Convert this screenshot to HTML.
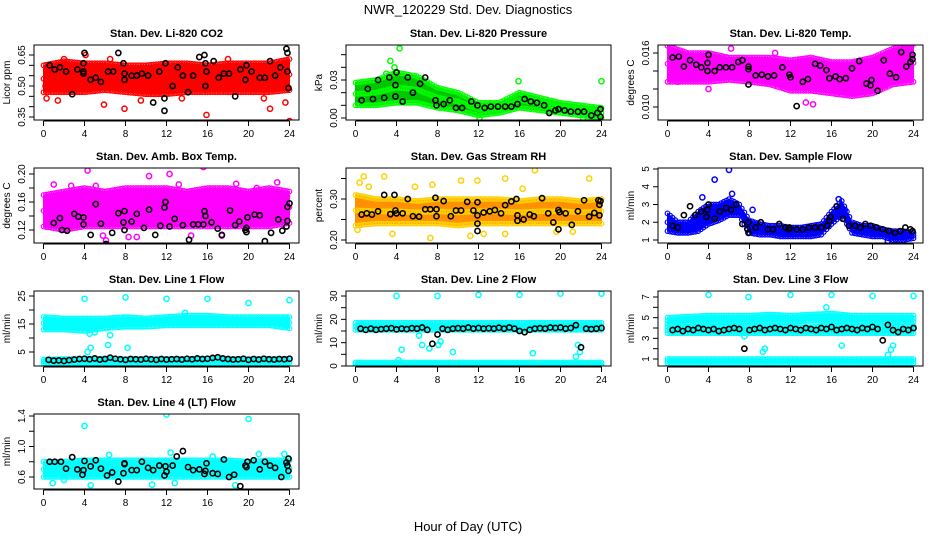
<!DOCTYPE html>
<html><head><meta charset="utf-8"><style>
body{margin:0;background:#fff;}
svg{display:block;font-family:"Liberation Sans",sans-serif;}
</style></head><body>
<svg id="chart" width="936" height="540" viewBox="0 0 936 540" xmlns="http://www.w3.org/2000/svg">
<text x="468" y="14" text-anchor="middle" font-size="13">NWR_120229  Std. Dev. Diagnostics</text>
<text x="468" y="531" text-anchor="middle" font-size="13">Hour of Day (UTC)</text>
</svg>
<script>
// ---------- data ----------
const hours2 = [0,2,4,6,8,10,12,14,16,18,20,22,24];
const hours1 = [0,1,2,3,4,5,6,7,8,9,10,11,12,13,14,15,16,17,18,19,20,21,22,23,24];
const xTicks = [0,4,8,12,16,20,24];
const halfHours = [0.5,1,1.5,2,2.5,3,3.5,4,4.5,5,5.5,6,6.5,7,7.5,8,8.5,9,9.5,10,10.5,11,11.5,12,12.5,13,13.5,14,14.5,15,15.5,16,16.5,17,17.5,18,18.5,19,19.5,20,20.5,21,21.5,22,22.5,23,23.5,24];

// P1 CO2
const co2Lo = [0.47,0.47,0.47,0.48,0.47,0.46,0.46,0.47,0.47,0.47,0.47,0.47,0.48];
const co2Hi = [0.60,0.62,0.61,0.61,0.60,0.60,0.61,0.61,0.60,0.61,0.61,0.61,0.63];
const co2OutX = [0.3,5.9,7.9,15.9,22.1,23.6,24.0,4.1,0.2,2.0,9.5,13.5,18.0,21.5,1.4,6.5];
const co2OutY = [0.44,0.41,0.39,0.36,0.39,0.42,0.33,0.65,0.50,0.63,0.43,0.44,0.63,0.44,0.43,0.63];
const co2BlkX = [0.6,1.1,1.6,2.2,2.8,3.3,3.9,3.9,4.0,3.9,4.6,5.1,5.6,6.3,6.8,7.3,7.8,7.9,7.9,8.6,9.1,9.6,10.2,10.7,11.3,11.8,11.9,11.8,12.6,13.1,13.6,14.1,14.6,15.2,15.7,15.8,15.8,15.9,16.6,17.1,17.6,18.1,18.7,19.2,19.7,19.8,20.3,21.1,21.6,22.1,22.6,23.1,23.7,23.8,23.8,23.9];
const co2BlkY = [0.60,0.58,0.59,0.57,0.46,0.58,0.56,0.57,0.66,0.61,0.53,0.54,0.52,0.57,0.57,0.66,0.61,0.53,0.56,0.55,0.55,0.56,0.55,0.42,0.57,0.44,0.61,0.38,0.50,0.59,0.55,0.47,0.55,0.64,0.65,0.61,0.50,0.57,0.62,0.54,0.56,0.56,0.45,0.58,0.53,0.60,0.57,0.54,0.54,0.62,0.55,0.59,0.68,0.66,0.57,0.49];
// P2 Pressure
const prLo = [0.010,0.010,0.012,0.012,0.008,0.006,0.002,0.004,0.008,0.006,0.004,0.002,0.000];
const prHi = [0.028,0.030,0.036,0.033,0.024,0.020,0.012,0.012,0.020,0.016,0.012,0.010,0.008];
const prOutX = [3.4,4.3,15.9,24.0,3.0,3.8,12.1,22.2];
const prOutY = [0.045,0.055,0.029,0.029,0.035,0.040,0.000,0.000];
const prBlkX = [0.6,1.2,1.7,2.2,2.8,3.3,3.9,3.9,4.0,4.6,5.1,5.6,6.3,6.8,7.8,7.9,8.6,9.2,9.8,10.4,11.3,11.9,12.6,13.2,13.9,14.6,15.2,15.8,16.5,17.1,17.7,18.4,18.9,19.5,19.8,20.4,21.0,21.7,22.3,23.0,23.6,23.9,23.9];
const prBlkY = [0.014,0.023,0.015,0.030,0.016,0.032,0.026,0.017,0.036,0.013,0.032,0.020,0.027,0.032,0.014,0.010,0.011,0.014,0.008,0.008,0.013,0.010,0.008,0.009,0.009,0.009,0.009,0.011,0.015,0.013,0.012,0.010,0.004,0.006,0.007,0.006,0.005,0.005,0.005,0.002,0.004,0.001,0.007];
// P3 Li-820 Temp
const ltLo = [0.0128,0.0128,0.0128,0.0130,0.0128,0.0125,0.0118,0.0118,0.0115,0.0112,0.0115,0.0125,0.0128];
const ltHi = [0.0168,0.0160,0.0160,0.0155,0.0155,0.0155,0.0152,0.0155,0.0150,0.0150,0.0155,0.0165,0.0170];
const ltOutX = [0.2,6.2,19.7,19.8,4.0,13.5,14.2,10.5,23.0,1.0];
const ltOutY = [0.0172,0.0165,0.0077,0.0081,0.0120,0.0105,0.0103,0.0160,0.0166,0.0128];
const ltBlkX = [0.5,1.1,1.6,2.2,2.8,3.3,3.9,3.9,4.0,4.6,5.1,5.7,6.3,6.9,7.3,7.9,7.9,7.9,8.6,9.2,9.8,10.4,11.2,11.9,12.0,12.6,13.2,13.7,14.4,14.9,15.5,15.8,16.4,16.8,17.4,18.0,18.7,19.4,19.8,19.9,20.5,21.1,21.7,22.3,22.8,23.3,23.7,23.9,23.9];
const ltBlkY = [0.0155,0.0156,0.0145,0.0152,0.0147,0.0144,0.0140,0.0149,0.0158,0.0140,0.0144,0.0144,0.0144,0.0150,0.0152,0.0145,0.0142,0.0125,0.0135,0.0136,0.0134,0.0135,0.0144,0.0136,0.0133,0.0101,0.0128,0.0131,0.0148,0.0146,0.0141,0.0132,0.0134,0.0131,0.0132,0.0143,0.0151,0.0126,0.0124,0.0130,0.0118,0.0152,0.0137,0.0133,0.0161,0.0145,0.0150,0.0158,0.0153];
// P4 Amb Box Temp
const abLo = [0.125,0.120,0.125,0.125,0.125,0.125,0.125,0.125,0.125,0.125,0.125,0.125,0.130];
const abHi = [0.170,0.175,0.180,0.175,0.180,0.180,0.180,0.175,0.180,0.180,0.175,0.180,0.175];
const abOutX = [1.0,4.3,5.1,10.3,12.3,15.6,18.8,22.8,6.1,8.3,14.4,17.4,5.8,0.3,9.1,2.7,13.2,20.8];
const abOutY = [0.185,0.205,0.183,0.197,0.200,0.210,0.186,0.188,0.105,0.110,0.112,0.112,0.112,0.125,0.110,0.183,0.185,0.180];
const abBlkX = [1.0,1.6,1.8,2.3,3.0,3.4,3.9,3.9,4.6,5.1,5.6,6.1,6.7,7.3,7.9,7.8,7.9,8.6,9.1,9.8,10.3,10.9,11.4,11.8,11.9,12.3,12.8,13.6,14.2,14.6,15.1,15.6,15.7,15.8,16.4,17.0,17.4,18.2,18.7,19.1,19.7,19.8,19.8,19.9,20.6,21.1,21.6,22.2,22.9,23.3,23.7,23.8,23.8,24.0];
const abBlkY = [0.130,0.137,0.120,0.119,0.143,0.139,0.138,0.128,0.113,0.157,0.129,0.100,0.116,0.144,0.147,0.131,0.120,0.132,0.143,0.123,0.149,0.113,0.126,0.152,0.160,0.125,0.136,0.127,0.106,0.128,0.128,0.128,0.147,0.140,0.131,0.122,0.113,0.148,0.127,0.132,0.120,0.117,0.123,0.138,0.142,0.141,0.104,0.116,0.135,0.119,0.125,0.133,0.153,0.158];
// P5 Gas Stream RH
const rhLo = [0.235,0.240,0.240,0.240,0.240,0.235,0.240,0.240,0.240,0.240,0.240,0.240,0.240];
const rhHi = [0.310,0.300,0.300,0.295,0.300,0.300,0.300,0.300,0.295,0.300,0.300,0.295,0.300];
const rhOutX = [0.4,0.8,2.8,7.5,10.3,11.9,14.6,17.5,22.8,0.2,3.6,7.3,11.2,12.5,14.6,21.2,1.3,5.8,16.3,19.6];
const rhOutY = [0.340,0.355,0.355,0.335,0.345,0.345,0.350,0.370,0.350,0.225,0.215,0.205,0.210,0.215,0.215,0.220,0.330,0.330,0.325,0.220];
const rhBlkX = [0.6,1.1,1.6,2.2,2.8,3.4,3.8,3.9,4.0,4.6,5.1,5.6,6.2,6.8,7.3,7.8,7.9,7.9,8.6,9.3,9.8,10.3,10.9,11.5,11.9,11.9,11.9,11.9,12.5,13.1,13.6,14.2,14.6,15.2,15.7,15.8,15.8,16.4,17.0,17.4,18.2,18.8,19.3,19.8,19.8,19.9,20.5,21.1,21.7,22.3,22.8,23.3,23.7,23.8,23.8,23.9];
const rhBlkY = [0.262,0.265,0.262,0.270,0.310,0.263,0.310,0.272,0.265,0.265,0.300,0.258,0.257,0.275,0.275,0.303,0.275,0.258,0.295,0.258,0.272,0.272,0.293,0.272,0.292,0.260,0.240,0.222,0.267,0.270,0.273,0.265,0.285,0.294,0.300,0.260,0.247,0.250,0.262,0.258,0.302,0.265,0.243,0.273,0.226,0.268,0.265,0.237,0.270,0.297,0.257,0.266,0.297,0.286,0.260,0.295];
// P6 Sample Flow
const sfLo = [1.5,1.4,1.4,1.5,1.9,2.1,2.4,2.4,1.4,1.3,1.3,1.2,1.2,1.2,1.2,1.3,1.9,2.4,1.4,1.3,1.2,1.2,1.0,1.0,1.1];
const sfHi = [2.5,2.0,2.0,2.6,3.0,3.0,3.3,3.0,2.1,1.9,1.8,1.8,1.7,1.7,1.8,1.9,2.6,3.2,2.0,1.8,1.8,1.6,1.5,1.5,1.4];
const sfOutX = [4.6,6.0,8.3,3.4,6.3,16.7,17.3,21.5];
const sfOutY = [4.4,4.95,2.7,3.4,3.6,3.3,2.7,0.95];
const sfBlkX = [0.5,1.0,1.6,2.2,2.7,3.3,3.8,3.9,4.0,4.6,5.1,5.7,6.2,6.7,7.3,7.8,7.9,7.9,8.6,9.1,9.8,10.3,10.9,11.5,11.8,11.9,12.6,13.2,13.8,14.4,15.0,15.6,15.8,15.9,16.5,17.1,17.7,18.3,18.8,19.3,19.8,20.4,21.0,21.6,22.2,22.7,23.2,23.7,23.9];
const sfBlkY = [1.8,1.7,2.4,2.9,2.4,2.6,2.3,2.7,3.0,2.2,2.6,2.8,2.7,3.0,1.9,1.6,1.4,2.0,1.7,2.0,1.6,1.6,1.9,1.7,1.6,1.7,1.6,1.6,1.7,1.7,1.7,1.8,2.1,2.3,2.9,2.2,1.8,1.8,1.7,1.9,1.8,1.7,1.6,1.5,1.4,1.5,1.7,1.6,1.5];
// P7 Line 1 Flow
const l1aLo = [13,13,12.5,13.5,14,14,14.5,14.5,14.5,14.5,14.5,14.5,13.5];
const l1aHi = [17.5,17,17,17,17.5,17,17.5,18,18,17.5,17.5,17.5,17.5];
const l1bLo = [1.0,1.0,1.2,1.2,1.2,1.2,1.2,1.2,1.2,1.2,1.2,1.2,1.2];
const l1bHi = [2.3,2.5,2.5,2.6,2.5,2.5,2.5,2.5,2.6,2.5,2.5,2.5,2.5];
const l1OutX = [4,8,12,16,20,24,4.3,4.6,6.3,6.5,8.2,4.5,5.0,13.8];
const l1OutY = [24,24.5,24,24,22.5,23.5,5,6.5,7.5,11,6.5,11.5,12,19];
const l1BlkY = [2.2,1.9,2.0,1.8,2.1,2.3,2.5,2.6,2.4,2.7,2.3,2.5,3.0,2.6,2.4,2.2,2.5,2.4,2.3,2.6,2.4,2.2,2.5,2.3,2.4,2.5,2.3,2.6,2.4,2.7,2.5,2.6,2.9,3.1,2.7,2.5,2.3,2.4,2.6,2.2,2.5,2.3,2.6,2.4,2.3,2.5,2.4,2.6];
// P8 Line 2 Flow
const l2aLo = [15.5,15.5,15.5,15.5,15.5,15.5,15.5,15.5,15.5,15.5,15.5,15.5,15.5];
const l2aHi = [18.5,18.5,18.5,18.5,18.5,18.5,18.5,18.5,18.5,18.5,18.5,18.5,18.5];
const l2bLo = [0,0,0,0,0,0,0,0,0,0,0,0,0];
const l2bHi = [1.5,1.5,1.5,1.5,1.5,1.5,1.5,1.5,1.5,1.5,1.5,1.5,1.5];
const l2OutX = [4,8,12,16,20,24,4.5,6.5,7.2,8.1,8.3,9.5,17.3,21.5,21.9,21.7,4.2,6.2];
const l2OutY = [30,30,30.5,30.5,31,31,7,9,7.5,9,10.5,6,5.5,4,6,9,2.5,13];
const l2BlkY = [16,15.5,16,15.5,15.8,16,16.2,15.7,16,15.8,16.2,16,16.5,15.5,9.5,13.5,16,15.5,16,16.2,16,16.5,16,16.3,16,16.2,16,16.4,16,16.5,16,15,14.5,15.5,16,16.2,16,16.5,16.3,16.5,16,16.3,17.5,8,16,15.8,16,16.3];
// P9 Line 3 Flow
const l3aLo = [4.4,4.5,4.6,4.6,4.6,4.6,4.6,4.7,4.7,4.6,4.6,4.6,4.6];
const l3aHi = [5.0,5.1,5.2,5.2,5.2,5.3,5.2,5.3,5.4,5.2,5.2,5.2,5.2];
const l3bLo = [3.5,3.5,3.5,3.5,3.5,3.5,3.5,3.5,3.5,3.5,3.5,3.5,3.5];
const l3bHi = [4.1,4.1,4.1,4.1,4.1,4.2,4.1,4.1,4.2,4.1,4.1,4.1,4.2];
const l3cLo = [0.6,0.6,0.6,0.6,0.6,0.6,0.6,0.6,0.6,0.6,0.6,0.6,0.6];
const l3cHi = [1.0,1.0,1.0,1.0,1.0,1.0,1.0,1.0,1.0,1.0,1.0,1.0,1.0];
const l3OutX = [4,7.9,12,16,20,24,7.5,9.5,17,21.5,22,15.5,9.3,21.8];
const l3OutY = [7.2,7.0,7.2,7.2,7.1,7.1,3.2,2.0,2.3,1.4,2.3,6.0,1.7,1.9];
const l3BlkY = [3.8,3.9,3.7,3.9,3.8,4.0,3.9,3.8,3.9,3.7,3.8,3.9,4.0,3.9,2.0,3.8,3.9,4.0,3.8,3.9,4.0,3.9,3.8,4.0,3.9,3.8,4.0,3.9,3.8,4.0,3.9,4.1,3.8,3.9,4.0,3.9,3.8,4.0,3.9,4.1,3.9,2.8,4.3,3.8,3.6,3.9,3.8,4.0];
// P10 Line 4 Flow
const l4Lo = [0.60,0.60,0.60,0.60,0.60,0.60,0.60,0.60,0.60,0.60,0.60,0.60,0.60];
const l4Hi = [0.80,0.80,0.82,0.82,0.82,0.82,0.82,0.82,0.82,0.82,0.80,0.82,0.82];
const l4OutX = [4,12,20,0.9,4.6,10.6,18.7,6.4,12.4,21.0,23.5,12.8,2.0,16.5];
const l4OutY = [1.27,1.42,1.36,0.52,0.49,0.50,0.49,0.89,0.92,0.90,0.90,0.52,0.56,0.87];
const l4BlkX = [0.6,1.1,1.7,2.2,2.8,3.3,3.8,3.9,4.0,4.6,5.1,5.6,6.2,6.7,7.3,7.8,7.9,7.9,8.6,9.1,9.6,10.2,10.7,11.3,11.8,11.9,12.0,12.6,13.0,13.6,14.1,14.6,15.2,15.7,15.8,15.9,16.5,17.0,17.6,18.1,18.6,19.2,19.7,19.8,19.9,20.5,21.1,21.6,22.1,22.6,23.2,23.7,23.8,23.9,23.9];
const l4BlkY = [0.80,0.80,0.80,0.71,0.86,0.70,0.63,0.69,0.81,0.74,0.82,0.71,0.62,0.66,0.54,0.65,0.77,0.78,0.69,0.69,0.80,0.72,0.69,0.75,0.62,0.74,0.67,0.75,0.87,0.94,0.73,0.69,0.70,0.64,0.68,0.78,0.65,0.64,0.83,0.60,0.63,0.48,0.75,0.73,0.80,0.82,0.70,0.80,0.75,0.72,0.60,0.79,0.75,0.68,0.84];

// y ticks
const co2Ticks=[0.35,0.40,0.45,0.50,0.55,0.60,0.65], co2Labels=["0.35","","","0.50","","","0.65"];
const prTicks=[0,0.01,0.02,0.03,0.04,0.05], prLabels=["0.00","","","0.03","",""];
const ltTicks=[0.010,0.012,0.014,0.016], ltLabels=["0.010","","","0.016"];
const abTicks=[0.12,0.14,0.16,0.18,0.20], abLabels=["0.12","","0.16","","0.20"];
const rhTicks=[0.20,0.25,0.30,0.35], rhLabels=["0.20","","0.30",""];
const sfTicks=[1,2,3,4,5], sfLabels=["1","2","3","4","5"];
const l1Ticks=[5,10,15,20,25], l1Labels=["5","","15","","25"];
const l2Ticks=[0,5,10,15,20,25,30], l2Labels=["0","","10","","20","","30"];
const l3Ticks=[1,2,3,4,5,6,7], l3Labels=["1","","3","","5","","7"];
const l4Ticks=[0.6,0.8,1.0,1.2,1.4], l4Labels=["0.6","","1.0","","1.4"];

// ---------- layout ----------
const panels = [
 {name:"co2",title:"Stan. Dev. Li-820 CO2",ylab:"Licor ppm",col:0,row:0,v0:0.65,p0:55,v1:0.35,p1:117,ticks:co2Ticks,labels:co2Labels,fill:"#ff0000",pt:"#ff0000",
  bands:[[hours2,co2Lo,co2Hi]],out:[co2OutX,co2OutY],blk:[co2BlkX,co2BlkY]},
 {name:"pressure",title:"Stan. Dev. Li-820 Pressure",ylab:"kPa",col:1,row:0,v0:0.03,p0:80,v1:0,p1:118,ticks:prTicks,labels:prLabels,fill:"#00c800",pt:"#00ff00",
  bands:[[hours2,prLo,prHi]],out:[prOutX,prOutY],blk:[prBlkX,prBlkY]},
 {name:"li820-temp",title:"Stan. Dev. Li-820 Temp.",ylab:"degrees C",col:2,row:0,v0:0.016,p0:53,v1:0.010,p1:107,ticks:ltTicks,labels:ltLabels,fill:"#ff00ff",pt:"#ff00ff",
  bands:[[hours2,ltLo,ltHi]],out:[ltOutX,ltOutY],blk:[ltBlkX,ltBlkY]},
 {name:"amb-box-temp",title:"Stan. Dev. Amb. Box Temp.",ylab:"degrees C",col:0,row:1,v0:0.20,p0:174,v1:0.12,p1:230,ticks:abTicks,labels:abLabels,fill:"#ff00ff",pt:"#ff00ff",
  bands:[[hours2,abLo,abHi]],out:[abOutX,abOutY],blk:[abBlkX,abBlkY]},
 {name:"gas-stream-rh",title:"Stan. Dev. Gas Stream RH",ylab:"percent",col:1,row:1,v0:0.30,p0:199,v1:0.20,p1:240,ticks:rhTicks,labels:rhLabels,fill:"#ff9000",pt:"#ffd000",
  bands:[[hours2,rhLo,rhHi]],out:[rhOutX,rhOutY],blk:[rhBlkX,rhBlkY]},
 {name:"sample-flow",title:"Stan. Dev. Sample Flow",ylab:"ml/min",col:2,row:1,v0:5,p0:169,v1:1,p1:240,ticks:sfTicks,labels:sfLabels,fill:"#0000ff",pt:"#0000ff",
  bands:[[hours1,sfLo,sfHi]],out:[sfOutX,sfOutY],blk:[sfBlkX,sfBlkY]},
 {name:"line1-flow",title:"Stan. Dev. Line 1 Flow",ylab:"ml/min",col:0,row:2,v0:25,p0:296,v1:5,p1:352,ticks:l1Ticks,labels:l1Labels,fill:"#00ffff",pt:"#00ffff",
  bands:[[hours2,l1aLo,l1aHi],[hours2,l1bLo,l1bHi]],out:[l1OutX,l1OutY],blk:[halfHours,l1BlkY]},
 {name:"line2-flow",title:"Stan. Dev. Line 2 Flow",ylab:"ml/min",col:1,row:2,v0:30,p0:296,v1:0,p1:366,ticks:l2Ticks,labels:l2Labels,fill:"#00ffff",pt:"#00ffff",
  bands:[[hours2,l2aLo,l2aHi],[hours2,l2bLo,l2bHi]],out:[l2OutX,l2OutY],blk:[halfHours,l2BlkY]},
 {name:"line3-flow",title:"Stan. Dev. Line 3 Flow",ylab:"ml/min",col:2,row:2,v0:7,p0:297,v1:1,p1:359,ticks:l3Ticks,labels:l3Labels,fill:"#00ffff",pt:"#00ffff",
  bands:[[hours2,l3aLo,l3aHi],[hours2,l3bLo,l3bHi],[hours2,l3cLo,l3cHi]],out:[l3OutX,l3OutY],blk:[halfHours,l3BlkY]},
 {name:"line4-flow",title:"Stan. Dev. Line 4 (LT) Flow",ylab:"ml/min",col:0,row:3,v0:1.4,p0:416,v1:0.6,p1:477,ticks:l4Ticks,labels:l4Labels,fill:"#00ffff",pt:"#00ffff",
  bands:[[hours2,l4Lo,l4Hi]],out:[l4OutX,l4OutY],blk:[l4BlkX,l4BlkY]}
];

const NS="http://www.w3.org/2000/svg";
const svg=document.getElementById('chart');
function mk(tag,attrs,parent){const e=document.createElementNS(NS,tag);for(const k in attrs)e.setAttribute(k,attrs[k]);(parent||svg).appendChild(e);return e;}
function interp(xs,ys,x){for(let i=0;i<xs.length-1;i++){if(x>=xs[i]&&x<=xs[i+1]){const t=(x-xs[i])/(xs[i+1]-xs[i]);return ys[i]+t*(ys[i+1]-ys[i]);}}return ys[ys.length-1];}

panels.forEach(p=>{
  const L=34+312*p.col, R=L+265, T=45+123*p.row, B=T+75;
  const x=h=>L+9.5+h*10.25;
  const y=v=>p.p0+(v-p.v0)*(p.p1-p.p0)/(p.v1-p.v0);
  const g=mk('g',{});
  
  
  const clip=mk('clipPath',{id:'c'+p.name},g);
  mk('rect',{x:L,y:T,width:R-L,height:B-T},clip);
  const title=mk('text',{x:(L+R)/2,y:T-8,'text-anchor':'middle','font-size':'11','font-weight':'bold'},g);
  title.textContent=p.title;
  
  
  const yl=mk('text',{x:0,y:0,transform:`translate(${L-24},${(T+B)/2}) rotate(-90)`,'text-anchor':'middle','font-size':'10'},g);
  yl.textContent=p.ylab;
  
  
  const plot=mk('g',{'clip-path':`url(#c${p.name})`},g);
  
  
  p.bands.forEach((b,bi)=>{
    const [xs,lo,hi]=b;
    let pts=xs.map((h,i)=>x(h)+','+y(hi[i]));
    pts=pts.concat(xs.map((h,i)=>x(h)+','+y(lo[i])).reverse());
    const poly=mk('polygon',{points:pts.join(' '),fill:p.fill,stroke:p.fill,'stroke-width':'1'},plot);
    
    
    for(let h=xs[0];h<=xs[xs.length-1]+1e-9;h+=0.25){
      const a=interp(xs,lo,h), c=interp(xs,hi,h);
      [a,c,(a+c)/2].forEach(v=>{
        const ci=mk('circle',{cx:x(h),cy:y(v),r:2.3,fill:'none',stroke:p.pt,'stroke-width':'1.2'},plot);
        
        
      });
    }
  });
  p.out[0].forEach((h,i)=>{
    const ci=mk('circle',{cx:x(h),cy:y(p.out[1][i]),r:2.6,fill:'none',stroke:p.pt,'stroke-width':'1.5'},plot);
    
    
  });
  const n=Math.min(p.blk[0].length,p.blk[1].length);
  for(let i=0;i<n;i++){
    const ci=mk('circle',{cx:x(p.blk[0][i]),cy:y(p.blk[1][i]),r:2.6,fill:'none',stroke:'#000','stroke-width':'1.6'},plot);
    
    
  }
  const box=mk('rect',{x:L,y:T,width:R-L,height:B-T,fill:'none',stroke:'#000','stroke-width':'1'},g);
  
  
  const xa=mk('g',{},g);
  
  
  mk('line',{x1:x(0),x2:x(24),y1:B+1,y2:B+1,stroke:'#000'},xa);
  xTicks.forEach(h=>{
    mk('line',{x1:x(h),x2:x(h),y1:B+1,y2:B+6,stroke:'#000'},xa);
    const t=mk('text',{x:x(h),y:B+17,'text-anchor':'middle','font-size':'10'},xa);
    t.textContent=h;
  });
  const ya=mk('g',{},g);
  
  
  const yt=p.ticks.map(y);
  mk('line',{x1:L,x2:L,y1:Math.min(...yt),y2:Math.max(...yt),stroke:'#000'},ya);
  p.ticks.forEach((v,i)=>{
    mk('line',{x1:L-5,x2:L,y1:y(v),y2:y(v),stroke:'#000'},ya);
    if(p.labels[i]){
      const t=mk('text',{x:0,y:0,transform:`translate(${L-9},${y(v)}) rotate(-90)`,'text-anchor':'middle','font-size':'10'},ya);
      t.textContent=p.labels[i];
    }
  });
});
</script>
</body></html>
